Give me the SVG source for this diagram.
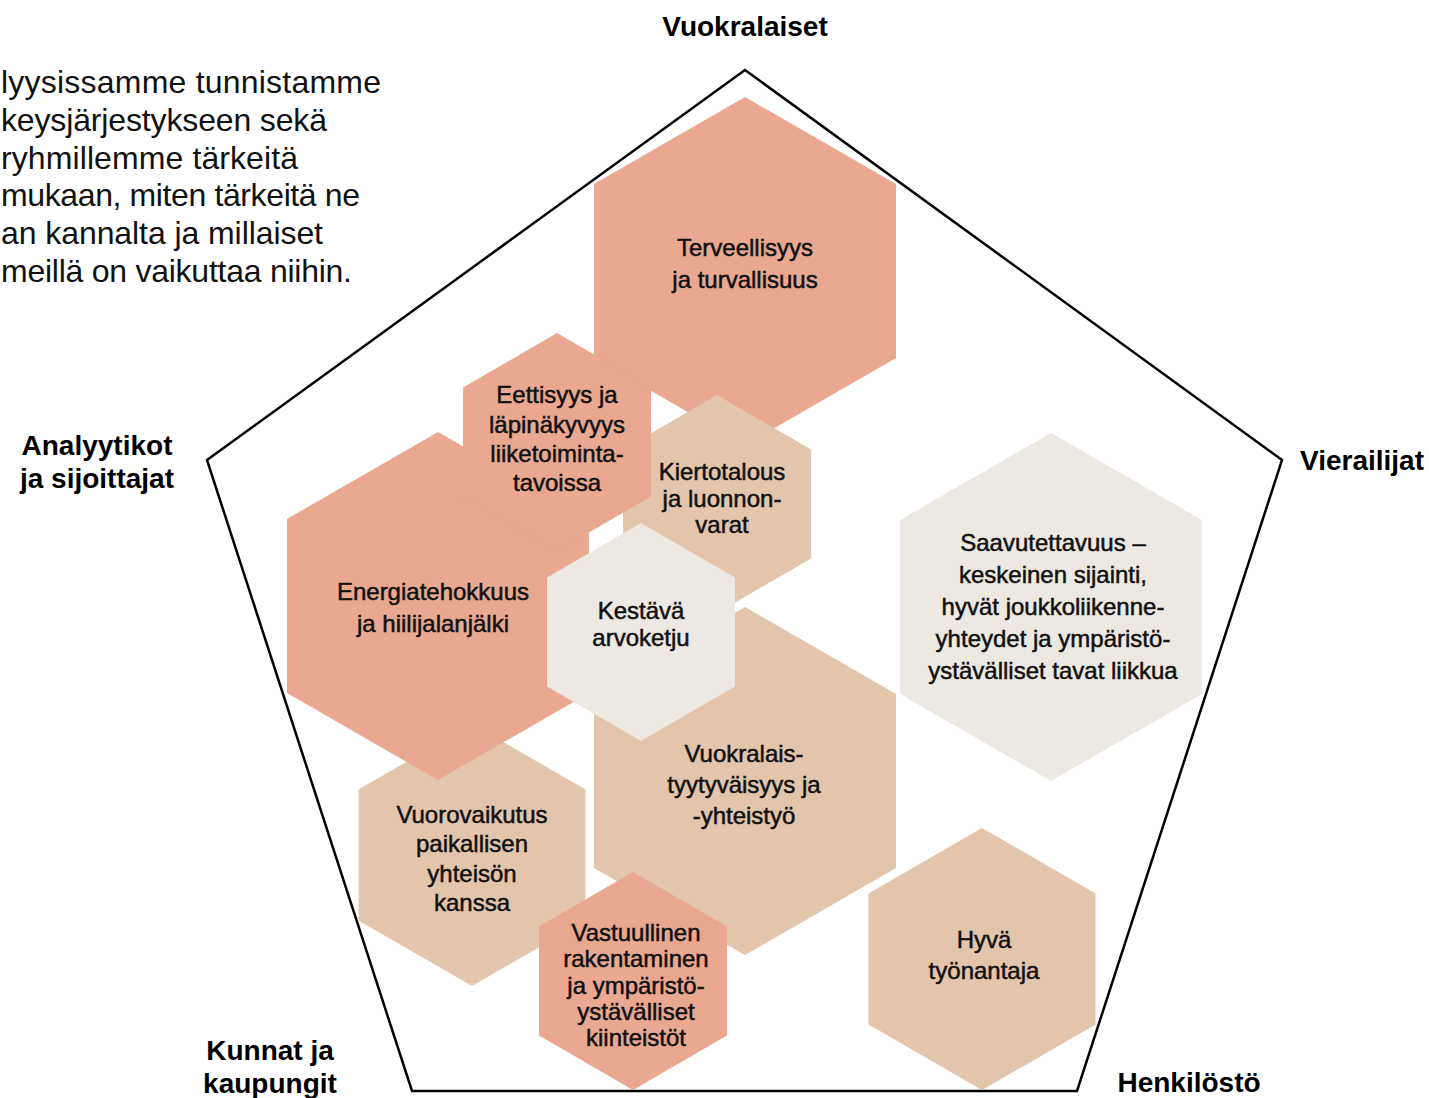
<svg xmlns="http://www.w3.org/2000/svg" width="1429" height="1098" viewBox="0 0 1429 1098">
<style>
  .salmon { fill: #EAA891; }
  .beige { fill: #E3C5AC; }
  .light { fill: #EDE8E2; }
  .hx { font-family: "Liberation Sans", Arial, sans-serif; font-size: 24px; fill: #111; stroke: #111; stroke-width: 0.5; text-anchor: middle; }
  .lbl { font-family: "Liberation Sans", Arial, sans-serif; font-size: 28px; font-weight: bold; fill: #000; text-anchor: middle; }
  .para { font-family: "Liberation Sans", Arial, sans-serif; font-size: 32px; fill: #111; text-anchor: start; }
  .frame { fill: none; stroke: #000; stroke-width: 2.5; stroke-linejoin: miter; }
</style>
<rect width="1429" height="1098" fill="#fff"/>

<g id="intro-text">
  <text class="para" x="1" y="93" textLength="380" lengthAdjust="spacing">lyysissamme tunnistamme</text>
  <text class="para" x="1" y="131" textLength="326" lengthAdjust="spacing">keysjärjestykseen sekä</text>
  <text class="para" x="1" y="169" textLength="297" lengthAdjust="spacing">ryhmillemme tärkeitä</text>
  <text class="para" x="1" y="206" textLength="359" lengthAdjust="spacing">mukaan, miten tärkeitä ne</text>
  <text class="para" x="1" y="244" textLength="322" lengthAdjust="spacing">an kannalta ja millaiset</text>
  <text class="para" x="1" y="282" textLength="351" lengthAdjust="spacing">meillä on vaikuttaa niihin.</text>
</g>

<g id="frame">
  <polygon class="frame" points="745,70 1282,460 1077,1091 412,1091 207,460"/>
</g>

<g id="labels">
  <text class="lbl" x="97" y="455">Analyytikot</text>
  <text class="lbl" x="97" y="488">ja sijoittajat</text>
  <text class="lbl" x="745" y="36">Vuokralaiset</text>
  <text class="lbl" x="1362" y="470">Vierailijat</text>
  <text class="lbl" x="270" y="1060">Kunnat ja</text>
  <text class="lbl" x="270" y="1093">kaupungit</text>
  <text class="lbl" x="1189" y="1092">Henkilöstö</text>
</g>

<g id="connectors"></g>

<g id="node-terveellisyys">
  <polygon class="salmon" points="745,97 896,184 896,358 745,445 594,358 594,184"/>
  <text class="hx" x="745" y="256">Terveellisyys</text>
  <text class="hx" x="745" y="288">ja turvallisuus</text>
</g>

<g id="node-kiertotalous">
  <polygon class="beige" points="717,395 811,449.5 811,558.5 717,613 623,558.5 623,449.5"/>
  <text class="hx" x="722" y="480">Kiertotalous</text>
  <text class="hx" x="722" y="507">ja luonnon-</text>
  <text class="hx" x="722" y="533">varat</text>
</g>

<g id="node-vuorovaikutus">
  <polygon class="beige" points="472,724 585.5,789.5 585.5,920.5 472,986 358.5,920.5 358.5,789.5"/>
  <text class="hx" x="472" y="823">Vuorovaikutus</text>
  <text class="hx" x="472" y="852">paikallisen</text>
  <text class="hx" x="472" y="882">yhteisön</text>
  <text class="hx" x="472" y="911">kanssa</text>
</g>

<g id="node-energia">
  <polygon class="salmon" points="438,432 589,519 589,693 438,780 287,693 287,519"/>
  <text class="hx" x="433" y="600">Energiatehokkuus</text>
  <text class="hx" x="433" y="632">ja hiilijalanjälki</text>
</g>

<g id="node-eettisyys">
  <polygon class="salmon" points="557,333 651,387.5 651,496.5 557,551 463,496.5 463,387.5"/>
  <text class="hx" x="557" y="403">Eettisyys ja</text>
  <text class="hx" x="557" y="433">läpinäkyvyys</text>
  <text class="hx" x="557" y="462">liiketoiminta-</text>
  <text class="hx" x="557" y="491">tavoissa</text>
</g>

<g id="node-vuokralaistyytyvaisyys">
  <polygon class="beige" points="745,607 896,694 896,868 745,955 594,868 594,694"/>
  <text class="hx" x="744" y="762">Vuokralais-</text>
  <text class="hx" x="744" y="793">tyytyväisyys ja</text>
  <text class="hx" x="744" y="824">-yhteistyö</text>
</g>

<g id="node-kestava">
  <polygon class="light" points="641,523 735,577.5 735,686.5 641,741 547,686.5 547,577.5"/>
  <text class="hx" x="641" y="619">Kestävä</text>
  <text class="hx" x="641" y="646">arvoketju</text>
</g>

<g id="node-saavutettavuus">
  <polygon class="light" points="1051,433 1202,520 1202,694 1051,781 900,694 900,520"/>
  <text class="hx" x="1053" y="551">Saavutettavuus –</text>
  <text class="hx" x="1053" y="583">keskeinen sijainti,</text>
  <text class="hx" x="1053" y="615">hyvät joukkoliikenne-</text>
  <text class="hx" x="1053" y="647">yhteydet ja ympäristö-</text>
  <text class="hx" x="1053" y="679">ystävälliset tavat liikkua</text>
</g>

<g id="node-vastuullinen">
  <polygon class="salmon" points="633,872 727,926.5 727,1035.5 633,1090 539,1035.5 539,926.5"/>
  <text class="hx" x="636" y="941">Vastuullinen</text>
  <text class="hx" x="636" y="967">rakentaminen</text>
  <text class="hx" x="636" y="994">ja ympäristö-</text>
  <text class="hx" x="636" y="1020">ystävälliset</text>
  <text class="hx" x="636" y="1046">kiinteistöt</text>
</g>

<g id="node-hyva-tyonantaja">
  <polygon class="beige" points="982,828 1095.5,893.5 1095.5,1024.5 982,1090 868.5,1024.5 868.5,893.5"/>
  <text class="hx" x="984" y="948">Hyvä</text>
  <text class="hx" x="984" y="979">työnantaja</text>
</g>
</svg>
